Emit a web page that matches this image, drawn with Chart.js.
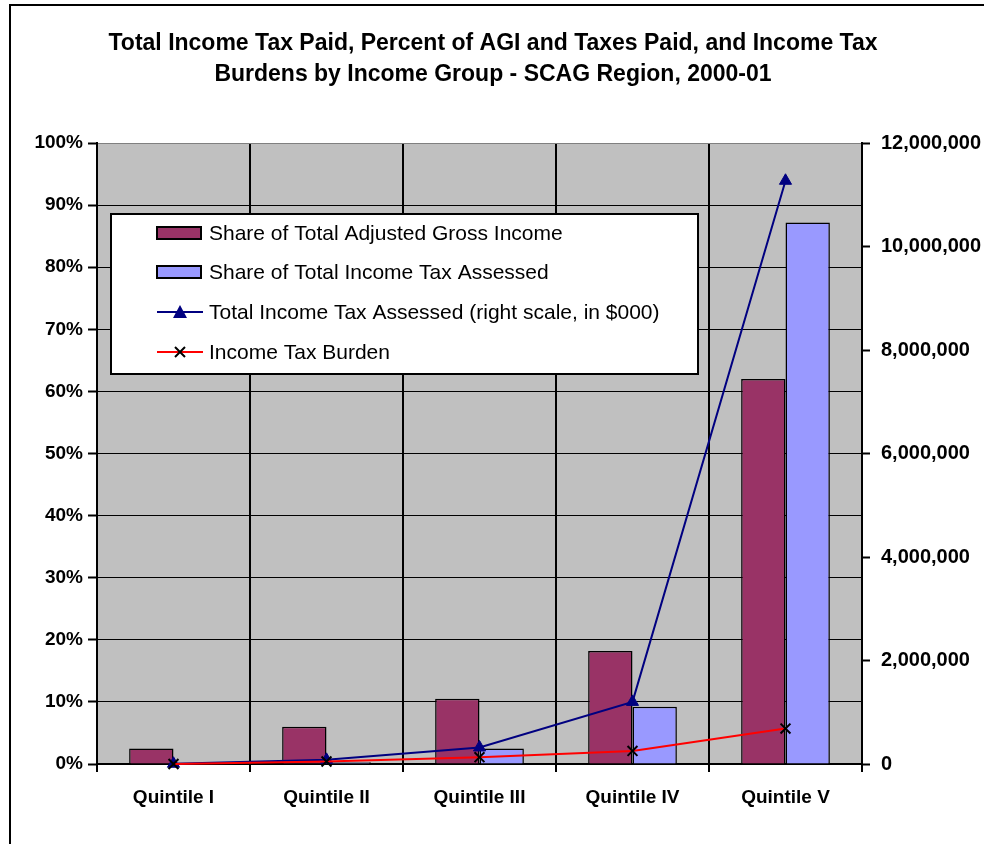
<!DOCTYPE html>
<html>
<head>
<meta charset="utf-8">
<script src="https://cdn.jsdelivr.net/npm/chart.js@4/dist/chart.umd.min.js"></script>
<style>
  html, body { margin: 0; padding: 0; background: #fff; overflow: hidden; }
  #wrap { width: 984px; height: 844px; position: relative; }
</style>
</head>
<body>
<div id="wrap"><canvas id="c" width="984" height="844"></canvas></div>
<script>
// Income groups
const categories = ['Quintile I', 'Quintile II', 'Quintile III', 'Quintile IV', 'Quintile V'];
// Percent of regional totals (left axis)
const shareAGI = [2.5, 6.0, 10.5, 18.2, 62.0];
const shareTax = [0.0, 0.3, 2.5, 9.2, 87.2];
const taxBurden = [0.0, 0.4, 1.1, 2.1, 5.7];
// Total income tax assessed, $000 (right axis)
const taxAssessed = [5000, 80000, 320000, 1200000, 11270000];
// Axis ranges
const pctTicks = { min: 0, max: 100, step: 10 };
const dollarTicks = { min: 0, max: 12000000, step: 2000000 };

const titleLines = [
  'Total Income Tax Paid, Percent of AGI and Taxes Paid, and Income Tax',
  'Burdens by Income Group - SCAG Region, 2000-01'
];

const PLOT = { left: 97, right: 862, top: 143, bottom: 764 };
const W = 984, H = 844;
const FAMILY = '"Liberation Sans", Arial, sans-serif';
const tickFont = { family: FAMILY, size: 19, weight: 'bold' };
const rightTickFont = { family: FAMILY, size: 20, weight: 'bold' };

// Frame, plot background, title and legend
const decor = {
  id: 'decor',
  beforeDraw(chart) {
    const ctx = chart.ctx, a = chart.chartArea;
    ctx.save();
    ctx.fillStyle = '#fff';
    ctx.fillRect(0, 0, W, H);
    ctx.strokeStyle = '#000';
    ctx.lineWidth = 2;
    ctx.strokeRect(10, 5, W + 50, H + 50);
    ctx.fillStyle = '#C0C0C0';
    ctx.fillRect(a.left, a.top, a.right - a.left, a.bottom - a.top);
    ctx.fillStyle = '#000';
    ctx.font = 'bold 23px ' + FAMILY;
    ctx.textAlign = 'center';
    ctx.textBaseline = 'middle';
    ctx.fillText(titleLines[0], 493, 44);
    ctx.fillText(titleLines[1], 493, 75);
    ctx.restore();
  },
  afterDraw(chart) {
    const ctx = chart.ctx;
    const ds = chart.data.datasets;
    const box = { x: 111, y: 214, w: 587, h: 160 };
    ctx.save();
    ctx.fillStyle = '#fff';
    ctx.fillRect(box.x, box.y, box.w, box.h);
    ctx.strokeStyle = '#000';
    ctx.lineWidth = 2;
    ctx.strokeRect(box.x, box.y, box.w, box.h);
    const rows = [233, 272, 312, 352];
    ctx.font = '21px ' + FAMILY;
    ctx.textBaseline = 'middle';
    ctx.textAlign = 'left';
    ds.forEach((d, i) => {
      const y = rows[i];
      if (d.type === 'bar') {
        ctx.fillStyle = d.backgroundColor;
        ctx.fillRect(157, y - 6, 44, 12);
        ctx.strokeStyle = '#000';
        ctx.lineWidth = 2;
        ctx.strokeRect(157, y - 6, 44, 12);
      } else {
        ctx.strokeStyle = d.borderColor;
        ctx.lineWidth = 2;
        ctx.beginPath();
        ctx.moveTo(157, y);
        ctx.lineTo(203, y);
        ctx.stroke();
        ctx.fillStyle = d.pointBackgroundColor;
        ctx.strokeStyle = d.pointBorderColor;
        if (d.pointStyle === 'triangle') {
          ctx.beginPath();
          ctx.moveTo(180, y - 7);
          ctx.lineTo(187, y + 6);
          ctx.lineTo(173, y + 6);
          ctx.closePath();
          ctx.fill();
        } else {
          ctx.lineWidth = 2;
          ctx.beginPath();
          ctx.moveTo(175, y - 5); ctx.lineTo(185, y + 5);
          ctx.moveTo(185, y - 5); ctx.lineTo(175, y + 5);
          ctx.stroke();
        }
      }
      ctx.fillStyle = '#000';
      ctx.fillText(d.label, 209, y + 1);
    });
    ctx.restore();
  }
};

new Chart(document.getElementById('c'), {
  data: {
    labels: categories,
    datasets: [
      {
        type: 'bar', label: 'Share of Total Adjusted Gross Income', data: shareAGI, yAxisID: 'y',
        backgroundColor: '#993366', borderColor: '#000', borderWidth: 1.5,
        barPercentage: 1, categoryPercentage: 0.58, order: 2
      },
      {
        type: 'bar', label: 'Share of Total Income Tax Assessed', data: shareTax, yAxisID: 'y',
        backgroundColor: '#9999FF', borderColor: '#000', borderWidth: 1.5,
        barPercentage: 1, categoryPercentage: 0.58, order: 2
      },
      {
        type: 'line', label: 'Total Income Tax Assessed (right scale, in $000)', data: taxAssessed, yAxisID: 'y1',
        borderColor: '#000080', borderWidth: 2, tension: 0,
        pointStyle: 'triangle', pointRadius: 7, pointBackgroundColor: '#000080', pointBorderColor: '#000080',
        pointBorderWidth: 1, clip: false, order: 1
      },
      {
        type: 'line', label: 'Income Tax Burden', data: taxBurden, yAxisID: 'y',
        borderColor: '#FF0000', borderWidth: 2, tension: 0,
        pointStyle: 'crossRot', pointRadius: 7, pointBackgroundColor: '#000', pointBorderColor: '#000',
        pointBorderWidth: 2, clip: false, order: 0
      }
    ]
  },
  options: {
    responsive: false,
    animation: false,
    layout: { padding: { top: PLOT.top, left: 0, right: 0, bottom: 0 } },
    plugins: { legend: { display: false }, title: { display: false }, tooltip: { enabled: false } },
    scales: {
      x: {
        offset: true,
        grid: { offset: true, color: '#000', lineWidth: 2, tickLength: 8, drawTicks: true },
        border: { color: '#000', width: 2 },
        ticks: { color: '#000', font: tickFont, padding: 14, maxRotation: 0 },
        afterFit(s) { s.height = H - PLOT.bottom; }
      },
      y: {
        position: 'left',
        min: pctTicks.min, max: pctTicks.max,
        grid: {
          color: (c) => (c.tick && c.tick.value === pctTicks.max ? '#808080' : '#000'),
          lineWidth: 1, tickLength: 9, tickColor: '#000', tickWidth: 2
        },
        border: { color: '#000', width: 2 },
        ticks: { stepSize: pctTicks.step, color: '#000', font: tickFont, padding: 5,
                 callback: (v) => v + '%' },
        afterFit(s) { s.width = PLOT.left; }
      },
      y1: {
        position: 'right',
        min: dollarTicks.min, max: dollarTicks.max,
        grid: { drawOnChartArea: false, tickLength: 8, tickColor: '#000', tickWidth: 2 },
        border: { color: '#000', width: 2 },
        ticks: { stepSize: dollarTicks.step, color: '#000', font: rightTickFont, padding: 11,
                 callback: (v) => v.toLocaleString('en-US') },
        afterFit(s) { s.width = W - PLOT.right; }
      }
    }
  },
  plugins: [decor]
});
</script>
</body>
</html>
